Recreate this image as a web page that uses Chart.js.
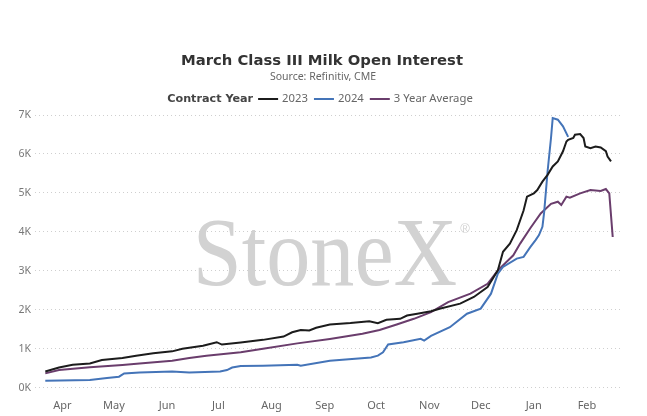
<!DOCTYPE html>
<html><head><meta charset="utf-8">
<script src="https://cdn.jsdelivr.net/npm/chart.js@4.4.1/dist/chart.umd.min.js"></script>
<style>html,body{margin:0;padding:0;background:#fff;}</style>
</head><body>
<canvas id="c" width="647" height="416"></canvas>
<script>
// ---- data (x = days after 1 Apr, y = contracts) ----
const monthTicks  = [0, 30, 61, 91, 122, 153, 183, 214, 244, 275, 306];
const monthLabels = ['Apr','May','Jun','Jul','Aug','Sep','Oct','Nov','Dec','Jan','Feb'];
const yTicks = [0, 1000, 2000, 3000, 4000, 5000, 6000, 7000];

const days2023 = [-10,-2,6,16,23,35,43,53,64,70,82,90,93,104,117,129,134,139,144,148,156,168,179,184,189,197,201,207,215,220,232,240,248,254,257,261,265,269,271,275,277,280,283,286,289,292,294,295,298,299,302,304,305,308,311,314,317,318,320];
const vals2023 = [420,520,590,625,715,765,825,885,935,1000,1080,1170,1110,1160,1230,1315,1425,1485,1470,1540,1625,1660,1710,1660,1745,1770,1855,1900,1965,2030,2160,2330,2585,3015,3490,3700,4045,4550,4905,4990,5075,5290,5465,5680,5810,6070,6320,6365,6410,6495,6510,6410,6190,6150,6190,6165,6070,5935,5810];

const days2024 = [-10,16,26,33,36,45,64,74,92,96,99,104,117,137,139,156,180,184,187,190,199,209,211,215,226,236,244,250,254,257,265,269,273,276,278,280,281,283,285,286,289,292,295];
const vals2024 = [180,200,250,285,370,395,420,395,420,455,520,560,565,590,565,695,780,825,910,1110,1170,1255,1210,1330,1555,1900,2030,2415,2930,3100,3315,3360,3615,3790,3920,4130,4500,5550,6410,6920,6880,6710,6440];

const daysAvg = [-10,-2,16,35,45,64,74,84,104,117,137,156,175,185,195,205,215,225,238,248,254,263,267,273,279,285,289,291,294,296,302,308,314,317,319,321];
const valsAvg = [370,455,525,585,625,695,765,825,910,1000,1140,1255,1385,1485,1625,1770,1940,2200,2415,2670,3015,3400,3700,4100,4475,4720,4775,4690,4905,4880,4990,5075,5050,5100,4990,3870];

const seriesNames = ['2023', '2024', '3 Year Average'];
const seriesColors = ['#1c1c1c', '#4474b8', '#6a3d6c'];

const zip = (xs, ys) => xs.map((x, i) => ({x, y: ys[i]}));

const headerPlugin = {
  id: 'header',
  afterDraw(chart) {
    const ctx = chart.ctx;
    ctx.save();
    ctx.textBaseline = 'middle';
    ctx.textAlign = 'center';
    ctx.fillStyle = '#333';
    ctx.font = "bold 14.8px 'DejaVu Sans'";
    ctx.fillText('March Class III Milk Open Interest', 322, 61);
    ctx.fillStyle = '#666';
    ctx.font = "10.5px 'Noto Sans'";
    ctx.fillText('Source: Refinitiv, CME', 323, 77);
    // legend
    const boldFont = "bold 11.2px 'DejaVu Sans'";
    const itemFont = "11.3px 'Noto Sans'";
    const lead = 'Contract Year';
    ctx.font = boldFont;
    let total = ctx.measureText(lead).width + 5;
    ctx.font = itemFont;
    const ds = chart.data.datasets;
    const widths = ds.map(d => ctx.measureText(d.label).width);
    widths.forEach((w, i) => { total += 20 + 4 + w + (i < widths.length - 1 ? 6 : 0); });
    let x = 320 - total / 2;
    const y = 99;
    ctx.textAlign = 'left';
    ctx.font = boldFont; ctx.fillStyle = '#444';
    ctx.fillText(lead, x, y);
    x += ctx.measureText(lead).width + 5;
    ctx.font = itemFont;
    ds.forEach((d, i) => {
      ctx.strokeStyle = d.borderColor; ctx.lineWidth = 2;
      ctx.beginPath(); ctx.moveTo(x, y); ctx.lineTo(x + 20, y); ctx.stroke();
      x += 24;
      ctx.fillStyle = '#666';
      ctx.fillText(d.label, x, y);
      x += widths[i] + 6;
    });
    ctx.restore();
  }
};

const watermarkPlugin = {
  id: 'watermark',
  beforeDatasetsDraw(chart) {
    const ctx = chart.ctx;
    ctx.save();
    ctx.fillStyle = '#d2d2d2';
    ctx.textAlign = 'center';
    ctx.textBaseline = 'alphabetic';
    ctx.translate(325, 285);
    ctx.scale(0.9, 1);
    ctx.font = "98px 'Liberation Serif'";
    ctx.fillText('StoneX', 0, 0);
    ctx.restore();
    ctx.save();
    ctx.fillStyle = '#d2d2d2';
    ctx.textAlign = 'center';
    ctx.textBaseline = 'middle';
    ctx.font = "13px 'Liberation Sans'";
    ctx.fillText('®', 465, 229);
    ctx.restore();
  }
};

new Chart(document.getElementById('c'), {
  type: 'line',
  data: {
    datasets: [
      { label: seriesNames[0], data: zip(days2023, vals2023), borderColor: seriesColors[0] },
      { label: seriesNames[1], data: zip(days2024, vals2024), borderColor: seriesColors[1] },
      { label: seriesNames[2], data: zip(daysAvg, valsAvg), borderColor: seriesColors[2] }
    ]
  },
  options: {
    responsive: false,
    animation: false,
    layout: { padding: { top: 115, right: 24, left: 0, bottom: -7 } },
    elements: {
      line: { borderWidth: 2, tension: 0, fill: false },
      point: { radius: 0, hoverRadius: 0 }
    },
    plugins: { legend: { display: false }, title: { display: false }, tooltip: { enabled: false } },
    scales: {
      x: {
        type: 'linear', min: -16, max: 327,
        grid: { display: false, drawTicks: false },
        border: { display: false },
        afterBuildTicks: s => { s.ticks = monthTicks.map(v => ({ value: v })); },
        ticks: {
          autoSkip: false, maxRotation: 0, padding: 11,
          color: '#666', font: { family: 'Noto Sans', size: 11 },
          callback: v => monthLabels[monthTicks.indexOf(v)]
        }
      },
      y: {
        min: 0, max: 7000,
        afterBuildTicks: s => { s.ticks = yTicks.map(v => ({ value: v })); },
        afterFit: s => { s.width = 35; },
        grid: { color: '#cfcfcf', lineWidth: 1, drawTicks: false },
        border: { display: false, dash: [1, 3] },
        ticks: {
          padding: 4, color: '#777', font: { family: 'Noto Sans', size: 10.5 },
          callback: v => (v / 1000) + 'K'
        }
      }
    }
  },
  plugins: [watermarkPlugin, headerPlugin]
});
</script>
</body></html>
